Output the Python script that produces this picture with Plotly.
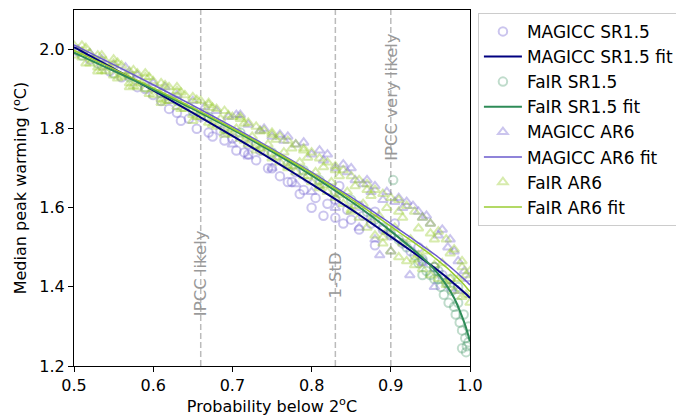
import plotly.graph_objects as go

# fitted curves
fit_x = [0.5, 0.55, 0.6, 0.65, 0.7, 0.75, 0.8, 0.85, 0.875, 0.9, 0.925, 0.95, 0.96, 0.97, 0.98, 0.99, 0.995, 1.0]
magicc_sr15_fit = [2.006, 1.952, 1.897, 1.840, 1.782, 1.722, 1.660, 1.596, 1.562, 1.527, 1.492, 1.456, 1.441, 1.425, 1.408, 1.391, 1.382, 1.372]
fair_sr15_fit = [1.992, 1.946, 1.899, 1.850, 1.798, 1.742, 1.682, 1.616, 1.580, 1.541, 1.500, 1.455, 1.432, 1.405, 1.372, 1.325, 1.297, 1.262]
magicc_ar6_fit = [2.012, 1.962, 1.911, 1.859, 1.805, 1.749, 1.690, 1.627, 1.594, 1.560, 1.525, 1.490, 1.475, 1.459, 1.442, 1.424, 1.415, 1.405]
fair_ar6_fit = [1.998, 1.951, 1.903, 1.853, 1.801, 1.746, 1.687, 1.622, 1.588, 1.553, 1.518, 1.482, 1.466, 1.450, 1.431, 1.411, 1.400, 1.388]

# scenario points
magicc_sr15_x = [0.505, 0.52, 0.535, 0.545, 0.56, 0.57, 0.58, 0.59, 0.6, 0.61, 0.62, 0.62, 0.63, 0.635, 0.645,
                 0.655, 0.66, 0.67, 0.675, 0.685, 0.69, 0.7, 0.705, 0.715, 0.72, 0.72, 0.73, 0.735, 0.745, 0.75,
                 0.75, 0.76, 0.765, 0.77, 0.775, 0.78, 0.785, 0.79, 0.795, 0.8, 0.805, 0.81, 0.815, 0.82, 0.83,
                 0.83, 0.835, 0.84, 0.845, 0.85, 0.86, 0.86, 0.865, 0.875, 0.88, 0.88, 0.89, 0.9, 0.905, 0.915,
                 0.925, 0.935, 0.94, 0.955, 0.965, 0.975]
magicc_sr15_y = [1.995, 1.975, 1.96, 1.945, 1.93, 1.935, 1.905, 1.9, 1.885, 1.87, 1.875, 1.85, 1.84, 1.82, 1.825,
                 1.80, 1.83, 1.79, 1.78, 1.795, 1.77, 1.775, 1.745, 1.74, 1.76, 1.735, 1.72, 1.745, 1.70, 1.735,
                 1.70, 1.68, 1.715, 1.665, 1.665, 1.69, 1.635, 1.645, 1.675, 1.60, 1.625, 1.66, 1.58, 1.61, 1.62,
                 1.575, 1.655, 1.56, 1.595, 1.57, 1.605, 1.545, 1.58, 1.56, 1.59, 1.505, 1.545, 1.53, 1.56, 1.51,
                 1.49, 1.50, 1.465, 1.45, 1.43, 1.40]

fair_sr15_x = [0.51, 0.53, 0.55, 0.57, 0.59, 0.61, 0.63, 0.65, 0.67, 0.69, 0.71, 0.73, 0.75, 0.77, 0.79,
               0.81, 0.83, 0.85, 0.87, 0.88, 0.89, 0.9, 0.903, 0.91, 0.92, 0.93, 0.935, 0.94, 0.94, 0.945,
               0.95, 0.955, 0.955, 0.96, 0.96, 0.963, 0.967, 0.97, 0.973, 0.975, 0.977, 0.98, 0.982, 0.985,
               0.985, 0.987, 0.99, 0.99, 0.992, 0.994, 0.995, 0.996, 0.998, 0.998, 1.0]
fair_sr15_y = [1.985, 1.965, 1.94, 1.93, 1.905, 1.89, 1.87, 1.845, 1.83, 1.80, 1.79, 1.76, 1.74, 1.71, 1.695,
               1.67, 1.64, 1.62, 1.59, 1.57, 1.55, 1.535, 1.67, 1.52, 1.50, 1.48, 1.46, 1.47, 1.43, 1.44,
               1.43, 1.45, 1.42, 1.42, 1.44, 1.40, 1.38, 1.41, 1.36, 1.42, 1.39, 1.35, 1.33, 1.36,
               1.40, 1.31, 1.29, 1.245, 1.33, 1.27, 1.235, 1.25, 1.30, 1.26, 1.28]

magicc_ar6_x = [0.505, 0.52, 0.535, 0.55, 0.565, 0.58, 0.6, 0.615, 0.63, 0.65, 0.665, 0.68, 0.695, 0.705, 0.72,
                0.735, 0.75, 0.765, 0.78, 0.79, 0.8, 0.815, 0.83, 0.845, 0.855, 0.865, 0.875, 0.89, 0.905, 0.915,
                0.928, 0.94, 0.95, 0.96, 0.972, 0.985, 0.993, 0.998, 0.78, 0.8, 0.83, 0.86, 0.886, 0.9,
                0.924, 0.94, 0.955, 0.88, 0.75, 0.72, 0.7, 0.985,
                0.71, 0.74, 0.76, 0.77, 0.81, 0.82, 0.84, 0.85, 0.87, 0.88, 0.895, 0.91, 0.92, 0.935,
                0.945, 0.965, 0.975, 0.98]
magicc_ar6_y = [2.0, 1.99, 1.975, 1.96, 1.955, 1.935, 1.915, 1.905, 1.885, 1.87, 1.855, 1.845, 1.83, 1.835, 1.81,
                1.795, 1.78, 1.77, 1.76, 1.765, 1.735, 1.72, 1.70, 1.69, 1.67, 1.66, 1.64, 1.62, 1.615, 1.60,
                1.605, 1.575, 1.56, 1.53, 1.50, 1.465, 1.44, 1.42, 1.66, 1.64, 1.60, 1.55, 1.48, 1.49,
                1.43, 1.46, 1.40, 1.52, 1.70, 1.73, 1.76, 1.39,
                1.835, 1.80, 1.785, 1.78, 1.745, 1.735, 1.71, 1.70, 1.67, 1.655, 1.64, 1.625, 1.615, 1.59,
                1.58, 1.545, 1.52, 1.49]

fair_ar6_x = [0.50, 0.50, 0.51, 0.51, 0.52, 0.52, 0.53, 0.53, 0.54, 0.54, 0.55, 0.55, 0.56, 0.56, 0.57, 0.57,
              0.58, 0.58, 0.59, 0.59, 0.60, 0.60, 0.61, 0.61, 0.62, 0.62, 0.63, 0.63, 0.64, 0.64, 0.65, 0.65,
              0.66, 0.66, 0.67, 0.67, 0.68, 0.68, 0.69, 0.69, 0.70, 0.70, 0.71, 0.71, 0.72, 0.72, 0.73, 0.73,
              0.74, 0.74, 0.75, 0.75, 0.76, 0.76, 0.77, 0.77, 0.78, 0.78, 0.79, 0.79, 0.80, 0.80, 0.81, 0.81,
              0.82, 0.82, 0.83, 0.83, 0.84, 0.84, 0.85, 0.85, 0.86, 0.86, 0.87, 0.87, 0.88, 0.88, 0.89, 0.89,
              0.90, 0.90, 0.91, 0.91, 0.92, 0.92, 0.93, 0.93, 0.94, 0.94, 0.95, 0.95, 0.96, 0.96, 0.97, 0.97,
              0.98, 0.98, 0.99, 0.99, 1.00, 1.00,
              0.505, 0.525, 0.545, 0.565, 0.585, 0.605, 0.625, 0.645, 0.665, 0.685, 0.705, 0.725, 0.745,
              0.765, 0.785, 0.805, 0.825, 0.845, 0.865, 0.885, 0.905, 0.925, 0.945, 0.965, 0.985,
              0.515, 0.535, 0.555, 0.575, 0.595, 0.615, 0.635, 0.655, 0.675, 0.695, 0.715, 0.735, 0.755,
              0.775, 0.795, 0.815, 0.835, 0.855, 0.875, 0.895, 0.915, 0.935, 0.955, 0.975, 0.995,
              0.515, 0.535, 0.555, 0.575, 0.595, 0.615, 0.635, 0.655, 0.675, 0.695, 0.715, 0.735, 0.755,
              0.775, 0.795, 0.815, 0.835, 0.855, 0.875, 0.895, 0.915, 0.935, 0.955, 0.975, 0.995,
              0.51, 0.53, 0.55, 0.57, 0.59, 0.61, 0.63, 0.65, 0.67, 0.69, 0.71, 0.73, 0.75,
              0.77, 0.79, 0.81, 0.83, 0.85, 0.87, 0.89, 0.91, 0.93, 0.95, 0.97, 0.99]
fair_ar6_y = [2.01, 1.985, 1.995, 1.98, 1.99, 1.965, 1.985, 1.955, 1.97, 1.945, 1.965, 1.935, 1.96, 1.93, 1.945, 1.915,
              1.94, 1.905, 1.93, 1.90, 1.92, 1.885, 1.915, 1.875, 1.905, 1.87, 1.895, 1.855, 1.885, 1.85, 1.88, 1.835,
              1.87, 1.83, 1.86, 1.815, 1.85, 1.805, 1.845, 1.795, 1.83, 1.785, 1.825, 1.775, 1.815, 1.76, 1.805, 1.755,
              1.795, 1.74, 1.79, 1.725, 1.78, 1.715, 1.77, 1.705, 1.76, 1.69, 1.75, 1.68, 1.74, 1.665, 1.725, 1.655,
              1.715, 1.64, 1.705, 1.625, 1.695, 1.61, 1.68, 1.595, 1.67, 1.575, 1.66, 1.55, 1.645, 1.53, 1.635, 1.51,
              1.625, 1.49, 1.62, 1.475, 1.605, 1.465, 1.59, 1.455, 1.575, 1.445, 1.56, 1.43, 1.54, 1.42, 1.52, 1.405,
              1.495, 1.39, 1.465, 1.375, 1.44, 1.36,
              1.995, 1.975, 1.955, 1.935, 1.915, 1.90, 1.88, 1.86, 1.84, 1.825, 1.80, 1.78, 1.76,
              1.74, 1.715, 1.69, 1.665, 1.64, 1.61, 1.58, 1.55, 1.52, 1.49, 1.46, 1.42,
              2.004, 1.985, 1.967, 1.948, 1.93, 1.91, 1.892, 1.873, 1.853, 1.834, 1.813, 1.793, 1.772,
              1.75, 1.727, 1.703, 1.68, 1.655, 1.63, 1.60, 1.575, 1.548, 1.52, 1.485, 1.43,
              1.965, 1.946, 1.927, 1.908, 1.888, 1.87, 1.85, 1.83, 1.81, 1.79, 1.77, 1.75, 1.728,
              1.705, 1.68, 1.657, 1.632, 1.605, 1.57, 1.54, 1.51, 1.48, 1.455, 1.42, 1.38,
              2.01, 1.945, 1.975, 1.905, 1.94, 1.865, 1.905, 1.82, 1.865, 1.785, 1.83, 1.745, 1.785,
              1.70, 1.745, 1.65, 1.695, 1.59, 1.645, 1.525, 1.59, 1.47, 1.535, 1.415, 1.45]

vlines = [0.66, 0.83, 0.9]
vline_labels = ["IPCC likely", "1-StD", "IPCC very likely"]
vline_label_y = [1.434, 1.43, 1.88]

fig = go.Figure()

# points first so the fit lines sit on top
points = [
    ("MAGICC SR1.5", magicc_sr15_x, magicc_sr15_y, "circle-open", "rgb(106,90,205)", 0.35, 1),
    ("FaIR SR1.5", fair_sr15_x, fair_sr15_y, "circle-open", "rgb(46,139,87)", 0.3, 3),
    ("MAGICC AR6", magicc_ar6_x, magicc_ar6_y, "triangle-up-open", "rgb(106,90,205)", 0.35, 5),
    ("FaIR AR6", fair_ar6_x, fair_ar6_y, "triangle-up-open", "rgb(154,205,50)", 0.4, 7),
]
for name, xs, ys, sym, col, op, rank in points:
    fig.add_trace(go.Scatter(
        x=xs, y=ys, mode="markers", name=name, legendrank=rank,
        marker=dict(symbol=sym, size=8.5, color=col, opacity=op, line=dict(width=2, color=col)),
    ))

fits = [
    ("MAGICC SR1.5 fit", magicc_sr15_fit, "navy", 2, 2),
    ("FaIR SR1.5 fit", fair_sr15_fit, "seagreen", 2, 4),
    ("MAGICC AR6 fit", magicc_ar6_fit, "slateblue", 1.5, 6),
    ("FaIR AR6 fit", fair_ar6_fit, "yellowgreen", 1.5, 8),
]
for name, ys, col, w, rank in fits:
    fig.add_trace(go.Scatter(
        x=fit_x, y=ys, mode="lines", name=name, legendrank=rank,
        line=dict(color=col, width=w, shape="spline", smoothing=0.4),
    ))

for xv, lab, ly in zip(vlines, vline_labels, vline_label_y):
    fig.add_vline(x=xv, line=dict(color="#bbbbbb", width=1.5, dash="6px,3px"), layer="below")
    fig.add_annotation(x=xv, y=ly, text=lab, textangle=-90, showarrow=False,
                       font=dict(size=16.5, color="#999999"))

axis_style = dict(
    showgrid=False, zeroline=False, showline=True, linecolor="black", linewidth=1,
    mirror=True, ticks="outside", ticklen=5, tickcolor="black", automargin=False,
    tickfont=dict(size=16, color="black"), tickformat=".1f",
)
fig.update_xaxes(range=[0.5, 1.0], tickvals=[0.5, 0.6, 0.7, 0.8, 0.9, 1.0],
                 title=dict(text="Probability below 2<sup>o</sup>C", font=dict(size=16, color="black"), standoff=4),
                 **axis_style)
fig.update_yaxes(range=[1.2, 2.1], tickvals=[1.2, 1.4, 1.6, 1.8, 2.0],
                 title=dict(text="Median peak warming (<sup>o</sup>C)", font=dict(size=16, color="black"), standoff=8),
                 **axis_style)

# page body adds an 8px offset, so the figure is drawn 8px smaller
fig.update_layout(
    width=676, height=410,
    margin=dict(l=66, r=214, t=2, b=52),
    paper_bgcolor="white", plot_bgcolor="white",
    font=dict(family="DejaVu Sans", color="black"),
    legend=dict(x=1.02, y=0.992, xanchor="left", yanchor="top", traceorder="normal",
                itemwidth=38, bordercolor="#cccccc", borderwidth=1,
                font=dict(size=17, color="black")),
)

fig.write_html("out.html")
